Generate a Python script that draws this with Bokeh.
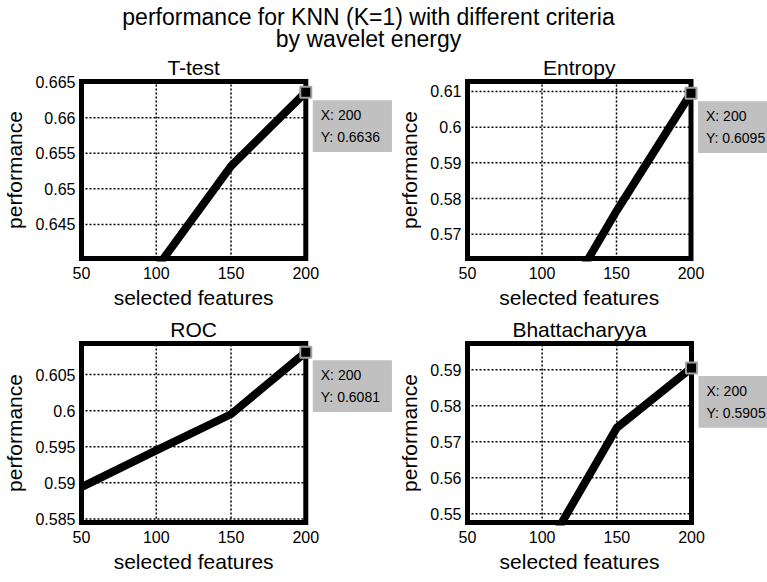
from bokeh.plotting import figure
from bokeh.layouts import column, row
from bokeh.models import Range1d, Label, LinearAxis, FixedTicker
from bokeh.core.properties import value
from bokeh.embed import file_html
from bokeh.resources import INLINE

FONT = "Liberation Sans"

main_title_lines = ["performance for KNN (K=1) with different criteria", "by wavelet energy"]

x_features = [50, 100, 150, 200]
x_ticks = [50, 100, 150, 200]
x_tick_labels = ["50", "100", "150", "200"]
x_lim = (50, 200)

ttest_perf = [0.6250, 0.6388, 0.6532, 0.6636]
entropy_perf = [0.5200, 0.5411, 0.5765, 0.6095]
roc_perf = [0.5894, 0.5945, 0.5995, 0.6081]
bhatt_perf = [0.5050, 0.5382, 0.5739, 0.5905]

ttest_yticks = [0.645, 0.65, 0.655, 0.66, 0.665]
ttest_yticklabels = ["0.645", "0.65", "0.655", "0.66", "0.665"]
entropy_yticks = [0.57, 0.58, 0.59, 0.6, 0.61]
entropy_yticklabels = ["0.57", "0.58", "0.59", "0.6", "0.61"]
roc_yticks = [0.585, 0.59, 0.595, 0.6, 0.605]
roc_yticklabels = ["0.585", "0.59", "0.595", "0.6", "0.605"]
bhatt_yticks = [0.55, 0.56, 0.57, 0.58, 0.59]
bhatt_yticklabels = ["0.55", "0.56", "0.57", "0.58", "0.59"]

ttest_ylim = (0.6402, 0.6651)
entropy_ylim = (0.5632, 0.6128)
roc_ylim = (0.5845, 0.6093)
bhatt_ylim = (0.5476, 0.5973)

panel_titles = ["T-test", "Entropy", "ROC", "Bhattacharyya"]
x_label = "selected features"
y_label = "performance"

EXT = 3  # extra frame pixels around the axes box


def style_axis(ax, label_size="16px"):
    ax.axis_line_color = None
    ax.major_tick_line_color = None
    ax.minor_tick_line_color = None
    ax.major_tick_out = 0
    ax.major_tick_in = 0
    ax.major_label_text_font = FONT
    ax.major_label_text_font_size = label_size
    ax.major_label_text_color = "black"
    ax.axis_label_text_font = FONT
    ax.axis_label_text_font_size = "21px"
    ax.axis_label_text_font_style = "normal"
    ax.axis_label_text_color = "black"


def make_panel(title, perf, yticks, yticklabels, ylim, fig_w, fig_h, box_left, box_w, box_top, box_h):
    bl = box_left - EXT
    bt = box_top - EXT
    frame_w = fig_w - bl
    frame_h = box_h + 2 * EXT
    bb = fig_h - bt - frame_h
    kx = box_w / (x_lim[1] - x_lim[0])
    ky = box_h / (ylim[1] - ylim[0])
    xr = Range1d(x_lim[0] - EXT / kx, x_lim[0] + (frame_w - EXT) / kx)
    yr = Range1d(ylim[0] - EXT / ky, ylim[1] + EXT / ky)
    x_mid = (x_lim[0] + x_lim[1]) // 2

    p = figure(width=fig_w, height=fig_h, x_range=xr, y_range=yr,
               output_backend="svg", toolbar_location=None,
               min_border_left=bl, min_border_right=0, min_border_top=bt, min_border_bottom=bb,
               background_fill_color="white", border_fill_color="white")
    p.outline_line_color = None
    p.xgrid.visible = False
    p.ygrid.visible = False

    bx = p.below[0]
    ly = p.left[0]
    style_axis(bx)
    style_axis(ly)
    bx.ticker = FixedTicker(ticks=x_ticks)
    bx.major_label_overrides = {t: l for t, l in zip(x_ticks, x_tick_labels)}
    bx.major_label_standoff = 5
    ly.ticker = FixedTicker(ticks=yticks)
    ly.major_label_overrides = {t: l for t, l in zip(yticks, yticklabels)}
    ly.axis_label = y_label
    ly.major_label_standoff = 3
    ly.axis_label_standoff = 6

    # x-axis label, centred on the axes box (single labelled tick at the box centre)
    bx2 = LinearAxis(ticker=FixedTicker(ticks=[x_mid]), major_label_overrides={x_mid: x_label})
    style_axis(bx2, "21px")
    bx2.major_label_standoff = 4
    p.add_layout(bx2, "below")

    # subplot title above the axes box, centred on it
    t_ax = LinearAxis(ticker=FixedTicker(ticks=[x_mid]), major_label_overrides={x_mid: title})
    style_axis(t_ax, "21px")
    t_ax.major_label_standoff = 0
    p.add_layout(t_ax, "above")

    # dotted grid inside the axes box
    p.segment(x0=x_ticks, y0=[ylim[0]] * len(x_ticks), x1=x_ticks, y1=[ylim[1]] * len(x_ticks),
              line_color="black", line_dash="2 2", line_width=1.5)
    p.segment(x0=[x_lim[0]] * len(yticks), y0=yticks, x1=[x_lim[1]] * len(yticks), y1=yticks,
              line_color="black", line_dash="2 2", line_width=1.5)

    p.line(x_features, perf, line_width=8, line_color="black", line_join="miter")

    # axes box
    p.quad(left=[x_lim[0]], right=[x_lim[1]], bottom=[ylim[0]], top=[ylim[1]],
           fill_color=None, line_color="black", line_width=5, line_join="miter")

    # data tip
    p.scatter([x_features[-1]], [perf[-1]], marker="square", size=11,
              fill_color="black", line_color="#a0a0a0", line_width=2)
    tip = Label(x=x_features[-1], y=perf[-1], x_offset=7, y_offset=-8,
                text=f"X: {x_features[-1]}\nY: {perf[-1]:.4f}",
                text_font=FONT, text_font_size="14px", text_color="black",
                text_line_height=1.36, anchor="top_left",
                background_fill_color="#c0c0c0", border_line_color=None,
                padding=dict(left=8, right=12, top=7, bottom=7))
    p.add_layout(tip)
    return p


tf = figure(width=767, height=52, x_range=Range1d(0, 767), y_range=Range1d(52, 0),
            x_axis_type=None, y_axis_type=None, output_backend="svg", toolbar_location=None,
            min_border=0, outline_line_color=None)
tf.grid.visible = False
tf.text(x=[368, 368], y=[16, 38], text=main_title_lines, text_align="center",
        text_baseline="alphabetic", text_font=value(FONT), text_font_size="23px", text_color="black")

# figures: (fig_w, fig_h, box_left, box_w, box_top, box_h) in page pixels relative to each figure
p1 = make_panel(panel_titles[0], ttest_perf, ttest_yticks, ttest_yticklabels, ttest_ylim,
                395, 260, 80, 225, 27, 179)
p2 = make_panel(panel_titles[1], entropy_perf, entropy_yticks, entropy_yticklabels, entropy_ylim,
                372, 260, 70, 225, 27, 179)
p3 = make_panel(panel_titles[2], roc_perf, roc_yticks, roc_yticklabels, roc_ylim,
                395, 268, 80, 225, 31, 179)
p4 = make_panel(panel_titles[3], bhatt_perf, bhatt_yticks, bhatt_yticklabels, bhatt_ylim,
                372, 268, 72, 224, 31, 179)

layout = column(tf, row(p1, p2), row(p3, p4))
open("out.html", "w").write(file_html(layout, INLINE))
